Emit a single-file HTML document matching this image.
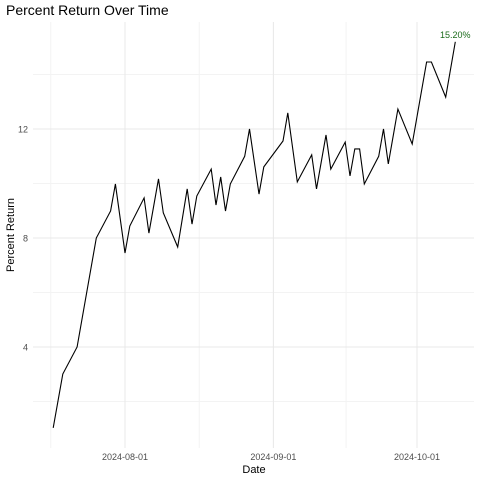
<!DOCTYPE html>
<html><head><meta charset="utf-8"><style>
body{margin:0;background:#fff;}
svg{display:block;font-family:"Liberation Sans",sans-serif;}
</style></head><body>
<svg id="chart" width="480" height="480">
<rect width="480" height="480" fill="#fff"/>
<text x="6" y="15" font-size="14" fill="#000">Percent Return Over Time</text>
<g id="grid"></g>
<g id="ticks"></g>
<path id="line" fill="none" stroke="#000" stroke-width="1.1"/>
<text id="endlabel" font-size="9" fill="#1a6b1a" text-anchor="middle"></text>
<text x="254" y="473" font-size="11" text-anchor="middle" fill="#000">Date</text>
<text x="14" y="235" font-size="11" text-anchor="middle" fill="#000" transform="rotate(-90 14 235)">Percent Return</text>
</svg>
<script>
const dates=["2024-07-17","2024-07-19","2024-07-22","2024-07-26","2024-07-29","2024-07-30","2024-08-01","2024-08-02","2024-08-05","2024-08-06","2024-08-08","2024-08-09","2024-08-12","2024-08-14","2024-08-15","2024-08-16","2024-08-19","2024-08-20","2024-08-21","2024-08-22","2024-08-23","2024-08-26","2024-08-27","2024-08-29","2024-08-30","2024-09-03","2024-09-04","2024-09-06","2024-09-09","2024-09-10","2024-09-12","2024-09-13","2024-09-16","2024-09-17","2024-09-18","2024-09-19","2024-09-20","2024-09-23","2024-09-24","2024-09-25","2024-09-27","2024-09-30","2024-10-03","2024-10-04","2024-10-07","2024-10-09"];
const values=[1.03,3.01,4.0,8.0,8.99,9.98,7.45,8.44,9.47,8.18,10.17,8.92,7.67,9.8,8.51,9.54,10.53,9.21,10.24,8.99,9.98,11.0,12.0,9.61,10.61,11.56,12.59,10.06,11.05,9.8,11.78,10.53,11.52,10.28,11.27,11.27,9.98,11.0,12.0,10.72,12.73,11.45,14.46,14.46,13.17,15.2];
const yTicks=[4,8,12];
const xTicks=["2024-08-01","2024-09-01","2024-10-01"];
const ns="http://www.w3.org/2000/svg";
const L=33,R=474,T=22,B=448;
const t0=Date.parse("2024-08-01"),t1=Date.parse("2024-10-01");
function X(d){return 125+(Date.parse(d)-t0)/(t1-t0)*(417-125);}
function Y(v){return 456-v*27.25;}
function mk(tag,attrs,parent){const e=document.createElementNS(ns,tag);for(const k in attrs)e.setAttribute(k,attrs[k]);parent.appendChild(e);return e;}
const grid=document.getElementById('grid'),ticks=document.getElementById('ticks');
[2,6,10,14].forEach(v=>{const l=mk('line',{x1:L,x2:R,y1:Y(v),y2:Y(v),stroke:'#f3f3f3','stroke-width':1},grid);

});
const dxm=(X(xTicks[1])-X(xTicks[0]))/2;
[X(xTicks[0])-dxm,X(xTicks[0])+dxm,X(xTicks[1])+dxm*0.98].forEach(x=>{const l=mk('line',{x1:x,x2:x,y1:T,y2:B,stroke:'#f3f3f3','stroke-width':1},grid);

});
yTicks.forEach(v=>{const l=mk('line',{x1:L,x2:R,y1:Y(v),y2:Y(v),stroke:'#e8e8e8','stroke-width':1},grid);


const t=mk('text',{x:28,y:Y(v)+3.5,'font-size':9,'text-anchor':'end',fill:'#4d4d4d'},ticks);t.textContent=v;

});
xTicks.forEach(d=>{const x=X(d);const l=mk('line',{x1:x,x2:x,y1:T,y2:B,stroke:'#e8e8e8','stroke-width':1},grid);


const t=mk('text',{x:x,y:460,'font-size':9,'text-anchor':'middle',fill:'#4d4d4d'},ticks);t.textContent=d;

});
document.getElementById('line').setAttribute('d',dates.map((d,i)=>(i?'L':'M')+X(d).toFixed(1)+','+Y(values[i]).toFixed(1)).join(''));
const lab=document.getElementById('endlabel'),n=values.length-1;
lab.setAttribute('x',X(dates[n]));lab.setAttribute('y',Y(values[n])-4);
lab.textContent=values[n].toFixed(2)+'%';
</script>
</body></html>
